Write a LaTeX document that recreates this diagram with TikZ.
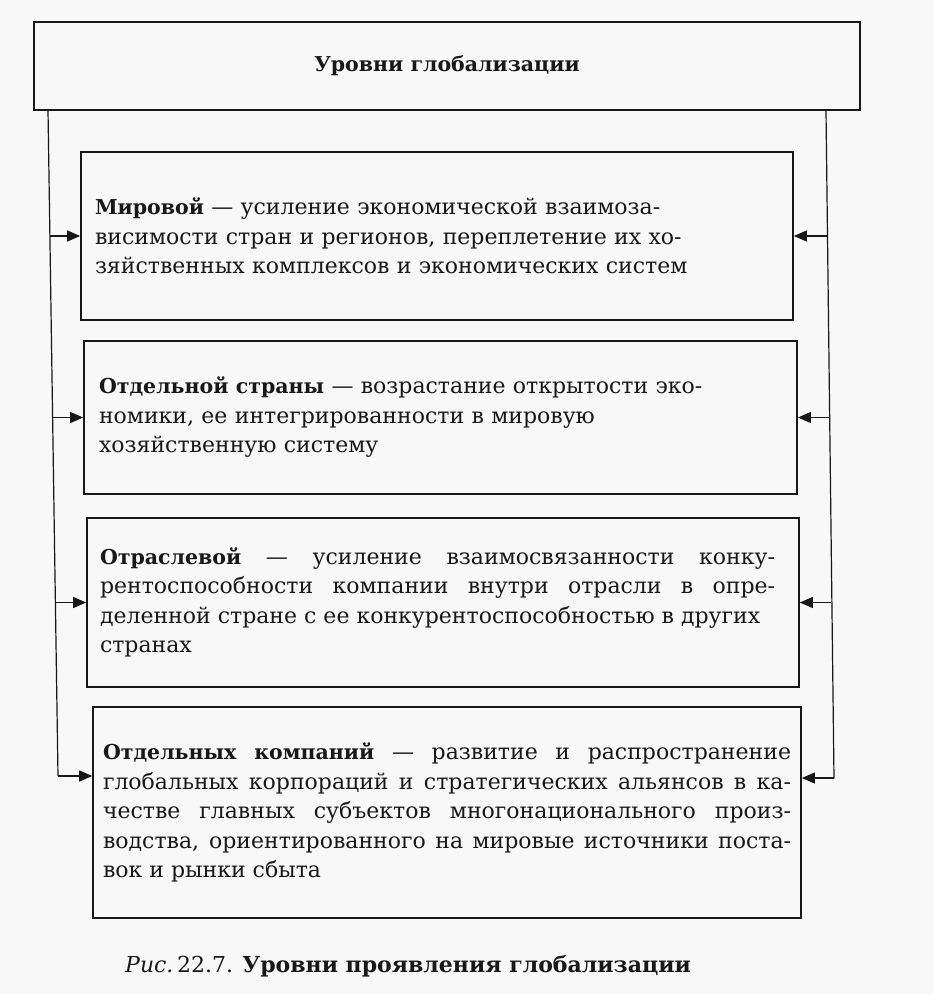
\documentclass[tikz,border=0pt]{standalone}
\usepackage{fontspec}
\setmainfont{DejaVu Serif}
\usetikzlibrary{arrows.meta}
\definecolor{bgcol}{RGB}{248,248,248}
\definecolor{ink}{RGB}{24,24,24}
\newcommand{\hd}[1]{{\fontsize{20.5}{29.5}\selectfont\bfseries #1}}
\begin{document}
\begin{tikzpicture}[x=1pt,y=-1pt,
  frame/.style={draw=ink, line width=1.7pt, fill=bgcol},
  levelbox/.style={frame, rectangle, inner sep=0pt, text=ink,
    font=\fontsize{22}{29.5}\selectfont},
  link/.style={draw=ink, line width=1.2pt},
  arr/.style={link, -{Triangle[length=13pt,width=11pt]}}]
\useasboundingbox[fill=bgcol] (0,0) rectangle (934,994);

\node[frame, text=ink, minimum width=826pt, minimum height=88pt,
  font=\bfseries\fontsize{20.5}{24}\selectfont] (top) at (447,66) {Уровни глобализации};

\node[levelbox, align=left, minimum width=712pt, minimum height=168pt, text width=684pt] (b1) at (437,236)
 {\hd{Мировой} — усиление экономической взаимоза-\\
  висимости стран и регионов, переплетение их хо-\\
  зяйственных комплексов и экономических систем};

\node[levelbox, align=left, minimum width=713pt, minimum height=153pt, text width=683pt] (b2) at (440.5,417.5)
 {\hd{Отдельной страны} — возрастание открытости эко-\\
  номики, ее интегрированности в мировую\\
  хозяйственную систему};

\node[levelbox, align=left, minimum width=712pt, minimum height=169pt, text width=686pt] (b3) at (443,602.5)
 {\parbox{675pt}{\fontsize{22}{29.5}\selectfont\spaceskip=0pt\relax\xspaceskip=0pt\relax
  \hd{Отраслевой} — усиление взаимосвязанности конку-\linebreak
  рентоспособности компании внутри отрасли в опре-\linebreak
  деленной стране с ее конкурентоспособностью в других\\
  странах}};

\node[levelbox, align=justify, minimum width=708pt, minimum height=211pt, text width=688pt] (b4) at (447,812.5)
 {\hd{Отдельных компаний} — развитие и распространение\linebreak
  глобальных корпораций и стратегических альянсов в ка-\linebreak
  честве главных субъектов многонационального произ-\linebreak
  водства, ориентированного на мировые источники поста-\linebreak
  вок и рынки сбыта};

\coordinate (Ltop) at (48,110);
\coordinate (L1) at (50,236);
\coordinate (L2) at (52.5,417.5);
\coordinate (L3) at (55.5,602.5);
\coordinate (L4) at (58,776);
\coordinate (Rtop) at (826,111);
\coordinate (R1) at (827.5,236);
\coordinate (R2) at (829,417.5);
\coordinate (R3) at (831,602.5);
\coordinate (R4) at (834,778);

\draw[link] (Ltop) -- (L4);
\draw[link] (Rtop) -- (R4);
\draw[arr] (L1) -- (b1.west);
\draw[arr] (L2) -- (b2.west);
\draw[arr] (L3) -- (b3.west);
\draw[arr] (L4) -- (L4 -| b4.west);
\draw[arr] (R1) -- (b1.east);
\draw[arr] (R2) -- (b2.east);
\draw[arr] (R3) -- (b3.east);
\draw[arr] (R4) -- (R4 -| b4.east);

\node[anchor=base west, text=ink, inner sep=0pt, font=\fontsize{22}{24}\selectfont] (cap) at (125,972)
 {\textit{Рис.}\,22.7. \textbf{Уровни проявления глобализации}};
\end{tikzpicture}
\end{document}
